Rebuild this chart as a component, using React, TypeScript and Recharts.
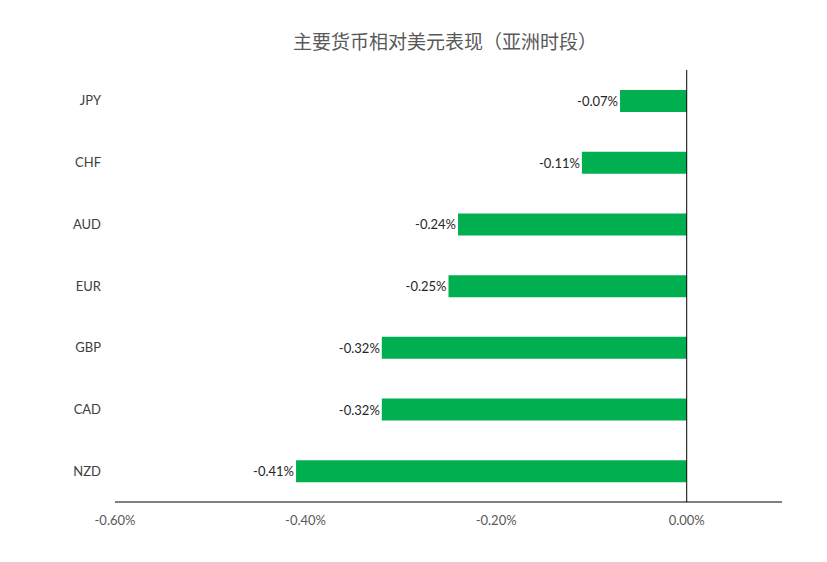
import { Bar, BarChart, LabelList, ReferenceLine, XAxis, YAxis } from "recharts";

// Asian session performance vs USD, in percent.
const currencies = ["JPY", "CHF", "AUD", "EUR", "GBP", "CAD", "NZD"];
const changes = [-0.07, -0.11, -0.24, -0.25, -0.32, -0.32, -0.41];
const xTicks = [-0.6, -0.4, -0.2, 0];

const GREEN = "#00B050";
const GREY = "#595959";
const FONT = "Lato, 'Noto Sans CJK SC', sans-serif";

const data = currencies.map((c, i) => ({ name: c, value: changes[i] }));

const pct = (v: number) => `${v.toFixed(2)}%`;

function BarLabel(props: any) {
  const { x, y, width, height, value } = props;
  const left = Math.min(x, x + width);
  return (
    <text
      x={left - 2}
      y={y + height / 2}
      textAnchor="end"
      dominantBaseline="central"
      fontSize={13}
      fill="#262626"
      fontFamily={FONT}
    >
      {pct(value)}
    </text>
  );
}

export default function App() {
  return (
    <div
      style={{
        position: "absolute",
        left: 0,
        top: 0,
        width: 827,
        height: 562,
        background: "#fff",
      }}
    >
      <div
        style={{
          position: "absolute",
          top: 27,
          left: 0,
          width: 890,
          textAlign: "center",
          fontSize: 19,
          color: GREY,
          fontFamily: "'Noto Sans CJK SC', sans-serif",
        }}
      >
        主要货币相对美元表现（亚洲时段）
      </div>
      <BarChart
        width={827}
        height={562}
        data={data}
        layout="vertical"
        margin={{ top: 70, right: 45, left: 0, bottom: 30 }}
        style={{ fontFamily: FONT }}
      >
        <XAxis
          type="number"
          domain={[-0.6, 0.1]}
          ticks={xTicks}
          tickFormatter={pct}
          tick={{ fontSize: 13, fill: GREY }}
          axisLine={{ stroke: "#000" }}
          tickLine={false}
          tickMargin={8}
          height={30}
          interval={0}
        />
        <YAxis
          type="category"
          dataKey="name"
          width={115}
          tick={{ fontSize: 13, fill: "#404040" }}
          axisLine={false}
          tickLine={false}
          tickMargin={8}
        />
        <Bar dataKey="value" fill={GREEN} barSize={22} isAnimationActive={false}>
          <LabelList dataKey="value" content={BarLabel} />
        </Bar>
        <ReferenceLine x={0} stroke="#000" />
      </BarChart>
    </div>
  );
}
